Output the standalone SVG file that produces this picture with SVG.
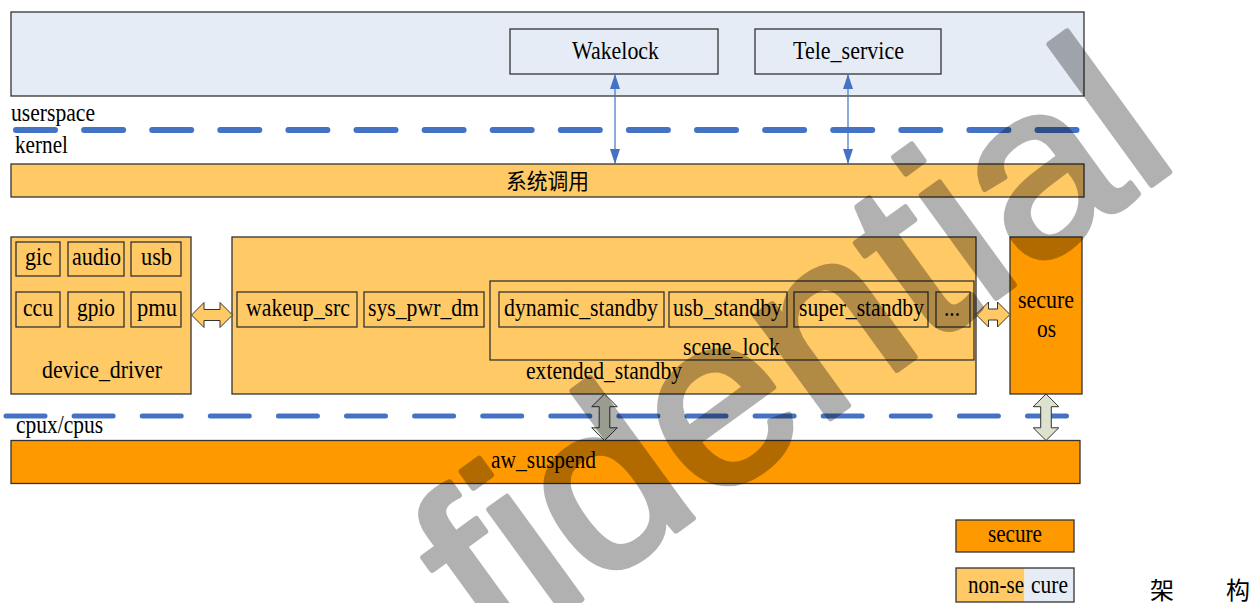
<svg xmlns="http://www.w3.org/2000/svg" width="1258" height="603" viewBox="0 0 1258 603">
  <defs>
    <style>
      .box { stroke: #333; stroke-width: 1.3; }
      .user { fill: #E6ECF6; }
      .yel { fill: #FFC965; }
      .org { fill: #FF9900; }
      .t { font-family: "Liberation Serif", "Times New Roman", serif; font-size: 25px; fill: #000; }
      .cjk { font-family: "Noto Sans CJK SC", sans-serif; fill: #000; }
      .dash { stroke: #4472C4; stroke-linecap: round; fill: none; }
      .thin { stroke: #4472C4; stroke-width: 1.2; fill: none; }
      .blk-h { fill: #FFC965; stroke: #333; stroke-width: 1; }
      .blk-v { fill: #DDE2CE; stroke: #333; stroke-width: 1; }
      .wm { font-family: "Liberation Sans", Arial, sans-serif; font-size: 240px; fill: #000; stroke: #000; stroke-width: 6; stroke-linejoin: round; opacity: 0.3; }
    </style>
    <marker id="tri" markerUnits="userSpaceOnUse" markerWidth="15" markerHeight="10" refX="15" refY="5" orient="auto-start-reverse">
      <path d="M0,0 L15,5 L0,10 Z" fill="#4472C4"/>
    </marker>
  </defs>

  <!-- userspace layer -->
  <g id="userspace">
    <rect class="box user" x="11" y="12" width="1073" height="84"/>
  </g>
  <g id="wakelock">
    <rect class="box user" x="510" y="29" width="208" height="45"/>
    <text class="t" x="572" y="59" textLength="87" lengthAdjust="spacingAndGlyphs">Wakelock</text>
  </g>
  <g id="tele_service">
    <rect class="box user" x="755" y="29" width="186" height="45"/>
    <text class="t" x="793" y="59" textLength="111" lengthAdjust="spacingAndGlyphs">Tele_service</text>
  </g>

  <!-- layer labels -->
  <g id="labels">
    <text class="t" x="11" y="121" textLength="84" lengthAdjust="spacingAndGlyphs">userspace</text>
    <text class="t" x="15" y="153" textLength="53" lengthAdjust="spacingAndGlyphs">kernel</text>
    <text class="t" x="16" y="433" textLength="87" lengthAdjust="spacingAndGlyphs">cpux/cpus</text>
  </g>

  <!-- system call bar -->
  <g id="syscall">
    <rect class="box yel" x="11" y="164" width="1073" height="33"/>
    <text class="cjk" x="506" y="189" font-size="22" textLength="83" lengthAdjust="spacingAndGlyphs">系统调用</text>
  </g>

  <!-- device drivers -->
  <g id="device_driver">
    <rect class="box yel" x="11" y="237" width="180" height="157"/>
    <rect class="box yel" x="16" y="242" width="44" height="34"/>
    <rect class="box yel" x="68" y="242" width="56" height="34"/>
    <rect class="box yel" x="131" y="242" width="50" height="34"/>
    <rect class="box yel" x="16" y="292" width="44" height="35"/>
    <rect class="box yel" x="68" y="292" width="56" height="35"/>
    <rect class="box yel" x="131" y="292" width="50" height="35"/>
    <text class="t" x="25" y="265" textLength="27" lengthAdjust="spacingAndGlyphs">gic</text>
    <text class="t" x="72" y="265" textLength="49" lengthAdjust="spacingAndGlyphs">audio</text>
    <text class="t" x="141" y="265" textLength="31" lengthAdjust="spacingAndGlyphs">usb</text>
    <text class="t" x="23" y="316" textLength="30" lengthAdjust="spacingAndGlyphs">ccu</text>
    <text class="t" x="77" y="316" textLength="38" lengthAdjust="spacingAndGlyphs">gpio</text>
    <text class="t" x="137" y="316" textLength="40" lengthAdjust="spacingAndGlyphs">pmu</text>
    <text class="t" x="42" y="378" textLength="120" lengthAdjust="spacingAndGlyphs">device_driver</text>
  </g>

  <!-- extended standby -->
  <g id="extended_standby">
    <rect class="box yel" x="232" y="237" width="744" height="157"/>
    <rect class="box yel" x="237" y="292" width="120" height="35"/>
    <rect class="box yel" x="364" y="292" width="120" height="35"/>
    <text class="t" x="246" y="316" textLength="104" lengthAdjust="spacingAndGlyphs">wakeup_src</text>
    <text class="t" x="368" y="316" textLength="111" lengthAdjust="spacingAndGlyphs">sys_pwr_dm</text>
    <text class="t" x="526" y="379" textLength="156" lengthAdjust="spacingAndGlyphs">extended_standby</text>
  </g>
  <g id="scene_lock">
    <rect class="box yel" x="490" y="281" width="484" height="79"/>
    <rect class="box yel" x="499" y="292" width="165" height="35"/>
    <rect class="box yel" x="669" y="292" width="118" height="35"/>
    <rect class="box yel" x="794" y="292" width="134" height="35"/>
    <rect class="box yel" x="936" y="292" width="34" height="35"/>
    <text class="t" x="504" y="316" textLength="154" lengthAdjust="spacingAndGlyphs">dynamic_standby</text>
    <text class="t" x="673" y="316" textLength="109" lengthAdjust="spacingAndGlyphs">usb_standby</text>
    <text class="t" x="799" y="316" textLength="125" lengthAdjust="spacingAndGlyphs">super_standby</text>
    <text class="t" x="944" y="316" textLength="16" lengthAdjust="spacingAndGlyphs">...</text>
    <text class="t" x="683" y="355" textLength="97" lengthAdjust="spacingAndGlyphs">scene_lock</text>
  </g>

  <!-- secure os -->
  <g id="secure_os">
    <rect class="box org" x="1010" y="237" width="72" height="157"/>
    <text class="t" x="1018" y="308" textLength="56" lengthAdjust="spacingAndGlyphs">secure</text>
    <text class="t" x="1037" y="337" textLength="19" lengthAdjust="spacingAndGlyphs">os</text>
  </g>

  <!-- aw_suspend -->
  <g id="aw_suspend">
    <rect class="box org" x="11" y="440.5" width="1069" height="43"/>
    <text class="t" x="491" y="468" textLength="105" lengthAdjust="spacingAndGlyphs">aw_suspend</text>
  </g>

  <!-- legend -->
  <g id="legend_secure">
    <rect class="box org" x="956" y="520" width="118" height="32"/>
    <text class="t" x="988" y="542" textLength="54" lengthAdjust="spacingAndGlyphs">secure</text>
  </g>
  <g id="legend_nonsecure">
    <rect class="yel" x="956" y="568" width="68.5" height="34"/>
    <rect class="user" x="1024.5" y="568" width="49.5" height="34"/>
    <rect x="956" y="568" width="118" height="34" fill="none" stroke="#333" stroke-width="1.3"/>
    <text class="t" x="968" y="593" textLength="56" lengthAdjust="spacingAndGlyphs">non-se</text>
    <text class="t" x="1031" y="593" textLength="37" lengthAdjust="spacingAndGlyphs">cure</text>
  </g>

  <!-- caption -->
  <g id="caption">
    <text class="cjk" x="1150" y="599" font-size="24">架</text>
    <text class="cjk" x="1226" y="599" font-size="24">构</text>
  </g>

  <!-- connectors -->
  <g id="connectors">
    <line class="dash" x1="16" y1="130" x2="1077" y2="130" stroke-width="6" stroke-dasharray="39 29.1"/>
    <line class="dash" x1="6" y1="416" x2="1066.5" y2="416" stroke-width="5" stroke-dasharray="39 29.1"/>
    <line class="thin" x1="615" y1="74" x2="615" y2="164" marker-start="url(#tri)" marker-end="url(#tri)"/>
    <line class="thin" x1="848" y1="74" x2="848" y2="164" marker-start="url(#tri)" marker-end="url(#tri)"/>
    <path class="blk-h" d="M191.5,315 L204,302.5 L204,309.5 L220,309.5 L220,302.5 L232.5,315 L220,327.5 L220,320.5 L204,320.5 L204,327.5 Z"/>
    <path class="blk-h" d="M976,314.5 L988.5,302 L988.5,309 L997.5,309 L997.5,302 L1010,314.5 L997.5,327 L997.5,320 L988.5,320 L988.5,327 Z"/>
    <path class="blk-v" d="M604.5,394 L617.3,406.7 L609.8,406.7 L609.8,427.8 L617.3,427.8 L604.5,440.5 L591.7,427.8 L599.2,427.8 L599.2,406.7 L591.7,406.7 Z"/>
    <path class="blk-v" d="M1046,394 L1058.8,406.7 L1051.3,406.7 L1051.3,427.8 L1058.8,427.8 L1046,440.5 L1033.2,427.8 L1040.7,427.8 L1040.7,406.7 L1033.2,406.7 Z"/>
  </g>

  <!-- watermark -->
  <text class="wm" transform="translate(495,662) rotate(-36)" textLength="850" lengthAdjust="spacingAndGlyphs">fidential</text>
</svg>
